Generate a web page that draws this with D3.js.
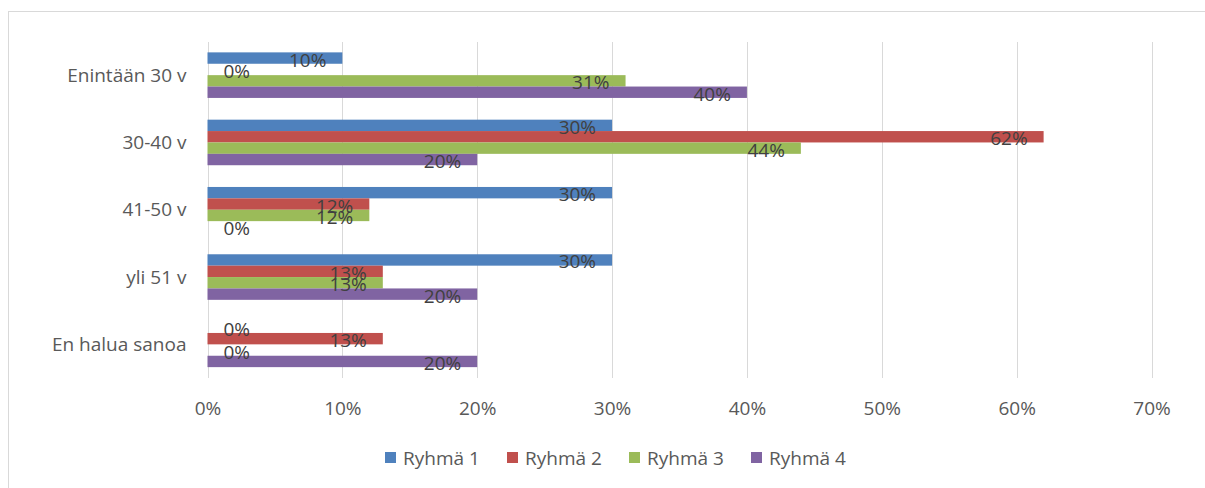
<!DOCTYPE html>
<html lang="fi">
<head>
<meta charset="utf-8">
<script src="https://cdn.jsdelivr.net/npm/d3@7"></script>
<style>
  html, body { margin: 0; padding: 0; background: #fff; }
  svg { display: block; font-family: "Open Sans", "Noto Sans", sans-serif; }
</style>
</head>
<body>
<svg id="chart" width="1205" height="488"></svg>
<script>
// Age groups (top to bottom) and the share of each group per series
const categories = ["Enintään 30 v", "30-40 v", "41-50 v", "yli 51 v", "En halua sanoa"];
const seriesNames = ["Ryhmä 1", "Ryhmä 2", "Ryhmä 3", "Ryhmä 4"];
const ryhma1 = [0.10, 0.30, 0.30, 0.30, 0.00];
const ryhma2 = [0.00, 0.62, 0.12, 0.13, 0.13];
const ryhma3 = [0.31, 0.44, 0.12, 0.13, 0.00];
const ryhma4 = [0.40, 0.20, 0.00, 0.20, 0.20];
const xTicks = [0, 0.1, 0.2, 0.3, 0.4, 0.5, 0.6, 0.7];
const colors = ["#4F81BD", "#C0504D", "#9BBB59", "#8064A2"];

const FONT = "Open Sans, Noto Sans, sans-serif";
const FS = 19;

const seriesValues = [ryhma1, ryhma2, ryhma3, ryhma4];
const rows = categories.map((c, i) => ({
  category: c,
  values: seriesNames.map((s, j) => ({ series: s, value: seriesValues[j][i], idx: j }))
}));

const svg = d3.select("#chart");

// chart frame
svg.append("rect")
  .attr("x", 8.5).attr("y", 11.5)
  .attr("width", 1210).attr("height", 490)
  .attr("fill", "none").attr("stroke", "#D9D9D9").attr("stroke-width", 1);

const plot = { left: 207.5, right: 1151.5, top: 41.5, bottom: 378 };

const x = d3.scaleLinear().domain([0, 0.7]).range([plot.left, plot.right]);
const y0 = d3.scaleBand().domain(categories).range([plot.top, plot.bottom])
  .paddingInner(0.323).paddingOuter(0.1615);
const y1 = d3.scaleBand().domain(seriesNames).range([0, y0.bandwidth()]);

// vertical gridlines + tick labels
const xAxis = d3.axisBottom(x).tickValues(xTicks)
  .tickFormat(d3.format(".0%"))
  .tickSize(-(plot.bottom - plot.top)).tickPadding(24);
const gx = svg.append("g")
  .attr("transform", `translate(0,${plot.bottom})`)
  .call(xAxis);
gx.select(".domain").remove();
gx.selectAll(".tick line").attr("stroke", "#D9D9D9").attr("stroke-width", 1)
  .attr("shape-rendering", "crispEdges");
gx.selectAll(".tick text").attr("fill", "#595959").attr("font-size", FS)
  .attr("font-family", FONT);

// category labels
const yAxis = d3.axisLeft(y0).tickSize(0).tickPadding(21);
const gy = svg.append("g").attr("transform", `translate(${plot.left},0)`).call(yAxis);
gy.select(".domain").remove();
gy.selectAll(".tick text").attr("fill", "#595959").attr("font-size", FS)
  .attr("dy", "0.35em")
  .attr("font-family", FONT);

// bars
const groups = svg.append("g").selectAll("g.group")
  .data(rows).join("g")
  .attr("class", "group")
  .attr("transform", d => `translate(0,${y0(d.category)})`);

groups.selectAll("rect")
  .data(d => d.values).join("rect")
  .attr("x", x(0))
  .attr("y", d => y1(d.series))
  .attr("width", d => x(d.value) - x(0))
  .attr("height", y1.bandwidth())
  .attr("fill", d => colors[d.idx]);

// value labels near the bar ends
groups.selectAll("text.val")
  .data(d => d.values).join("text")
  .attr("class", "val")
  .attr("x", d => d.value > 0 ? x(d.value) - 16 : x(0) + 16)
  .attr("text-anchor", d => d.value > 0 ? "end" : "start")
  .attr("y", d => y1(d.series) + y1.bandwidth() / 2 + 1.5)
  .attr("dominant-baseline", "central")
  .attr("fill", "#404040")
  .attr("font-size", FS)
  .text(d => d3.format(".0%")(d.value));

// legend
const legendX = [385, 507, 629, 751];
const legend = svg.append("g").selectAll("g")
  .data(seriesNames).join("g")
  .attr("transform", (d, i) => `translate(${legendX[i]},452)`);
legend.append("rect").attr("width", 11).attr("height", 11)
  .attr("fill", (d, i) => colors[i]);
legend.append("text").attr("x", 18).attr("y", 13)
  .attr("fill", "#595959").attr("font-size", FS)
  .text(d => d);
</script>
</body>
</html>
